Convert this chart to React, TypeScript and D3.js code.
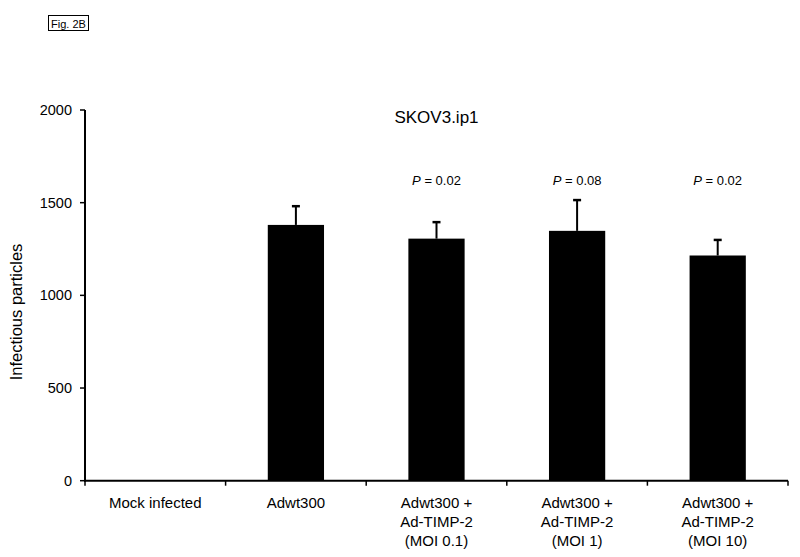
import React from "react";
import * as d3 from "d3";

const categories: string[][] = [
  ["Mock infected"],
  ["Adwt300"],
  ["Adwt300 +", "Ad-TIMP-2", "(MOI 0.1)"],
  ["Adwt300 +", "Ad-TIMP-2", "(MOI 1)"],
  ["Adwt300 +", "Ad-TIMP-2", "(MOI 10)"],
];
const values: number[] = [0, 1380, 1306, 1348, 1215];
const errors: number[] = [0, 101, 89, 166, 84];
const pLabels: (string | null)[] = [null, null, "0.02", "0.08", "0.02"];
const yTicks: number[] = [0, 500, 1000, 1500, 2000];

export default function App() {
  const W = 800, H = 557;
  const left = 85, right = 788, top = 110, bottom = 480.7;
  const x = d3.scaleBand<number>().domain(d3.range(categories.length)).range([left, right]).paddingInner(0.6).paddingOuter(0.3);
  const band = d3.scaleBand<number>().domain(d3.range(categories.length)).range([left, right]);
  const y = d3.scaleLinear().domain([0, 2000]).range([bottom, top]);
  const font = "Arial, 'Liberation Sans', Helvetica, sans-serif";
  const tickXs = d3.range(categories.length + 1).map((i) => left + i * band.step());
  const cx = (i: number) => band(i)! + band.bandwidth() / 2;

  return (
    <svg width={W} height={H} style={{ position: "absolute", left: 0, top: 0, background: "#fff" }} fontFamily={font}>
      <rect x={0} y={0} width={W} height={H} fill="#fff" />
      {/* Fig label */}
      <rect x={48.5} y={15.5} width={40} height={15} fill="none" stroke="#000" strokeWidth={1} />
      <text x={68.5} y={27.5} textAnchor="middle" fontSize={11} fill="#000">Fig. 2B</text>

      {/* title */}
      <text x={(left + right) / 2} y={123} textAnchor="middle" fontSize={17} fill="#000">SKOV3.ip1</text>

      {/* bars */}
      {values.map((v, i) => (
        <g key={i}>
          {v > 0 && (
            <rect x={x(i)!} y={y(v)} width={x.bandwidth()} height={bottom - y(v)} fill="#000" />
          )}
          {errors[i] > 0 && (
            <g stroke="#000" strokeWidth={2}>
              <line x1={cx(i)} x2={cx(i)} y1={y(v)} y2={y(v + errors[i])} />
              <line x1={cx(i) - 4} x2={cx(i) + 4} y1={y(v + errors[i])} y2={y(v + errors[i])} strokeWidth={2.5} />
            </g>
          )}
          {pLabels[i] && (
            <text x={cx(i)} y={184.5} textAnchor="middle" fontSize={13} fill="#000">
              <tspan fontStyle="italic">P</tspan>
              <tspan> = {pLabels[i]}</tspan>
            </text>
          )}
        </g>
      ))}

      {/* y axis */}
      <line x1={left} x2={left} y1={y(2000)} y2={bottom + 1} stroke="#000" strokeWidth={2} />
      {yTicks.map((t) => (
        <g key={t}>
          <line x1={left - 5} x2={left} y1={y(t)} y2={y(t)} stroke="#000" strokeWidth={1.5} />
          <text x={left - 13} y={y(t) + 5} textAnchor="end" fontSize={14.5} fill="#000">{t}</text>
        </g>
      ))}
      <text transform={`translate(22, 312) rotate(-90)`} textAnchor="middle" fontSize={16.5} fill="#000">Infectious particles</text>

      {/* x axis */}
      <line x1={left - 1} x2={right} y1={bottom} y2={bottom} stroke="#000" strokeWidth={2} />
      {tickXs.map((tx, i) => (
        <line key={i} x1={tx} x2={tx} y1={bottom} y2={bottom + 5} stroke="#000" strokeWidth={1.5} />
      ))}
      {categories.map((lines, i) => (
        <text key={i} x={cx(i)} textAnchor="middle" fontSize={15} fill="#000">
          {lines.map((l, j) => (
            <tspan key={j} x={cx(i)} y={508 + j * 19}>{l}</tspan>
          ))}
        </text>
      ))}
    </svg>
  );
}
